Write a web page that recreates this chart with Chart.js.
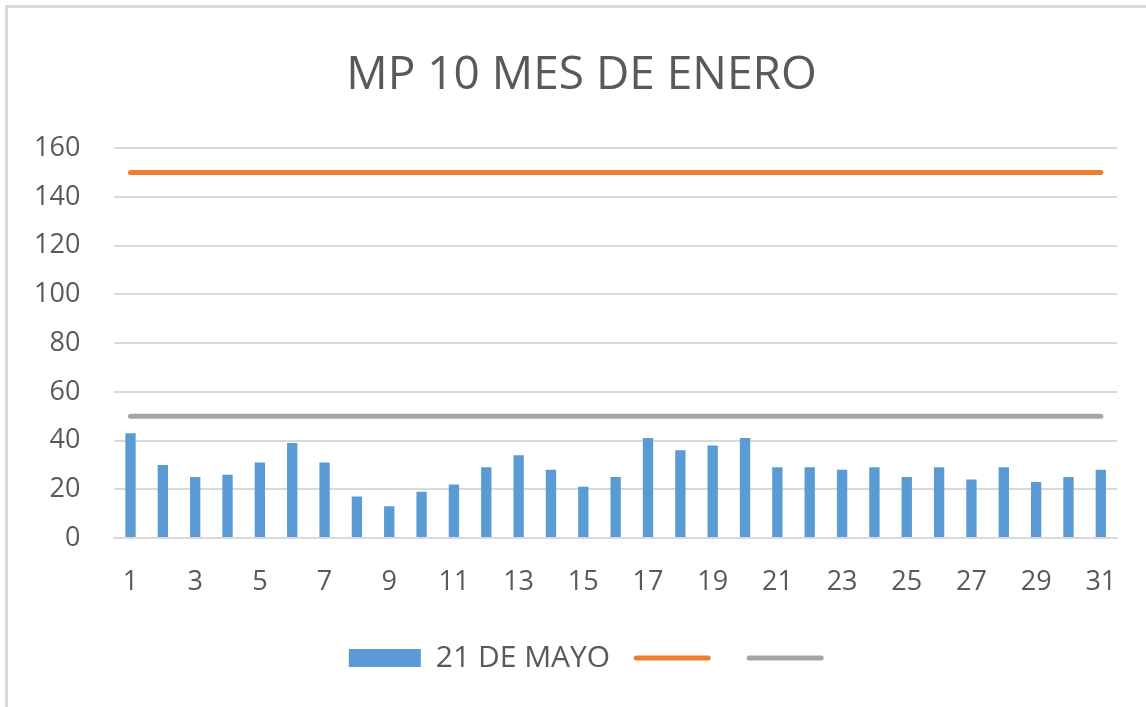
<!DOCTYPE html>
<html>
<head>
<meta charset="utf-8">
<script src="https://cdn.jsdelivr.net/npm/chart.js@4"></script>
<style>
  html, body { margin: 0; padding: 0; background: #fff; }
  #frame {
    position: absolute; left: 5px; top: 5px; width: 1141px; height: 702px;
    border-top: 3px solid #d9d9d9; border-left: 3px solid #d9d9d9;
    box-sizing: border-box;
  }
  #wrap { position: absolute; left: 0; top: 0; width: 1146px; height: 707px; }
</style>
</head>
<body>
<div id="frame"></div>
<div id="wrap"><canvas id="chart"></canvas></div>
<script>
// datos del grafico
const dias = Array.from({ length: 31 }, (_, i) => String(i + 1));
const mayo21 = [43, 30, 25, 26, 31, 39, 31, 17, 13, 19, 22, 29, 34, 28, 21, 25, 41, 36, 38, 41,
                29, 29, 28, 29, 25, 29, 24, 29, 23, 25, 28];
const limiteAlto = Array(31).fill(150);
const limiteBajo = Array(31).fill(50);
const yTicks = [0, 20, 40, 60, 80, 100, 120, 140, 160];

const FONT = "'Open Sans', 'Liberation Sans', sans-serif";
const GRIS_TEXTO = '#595959';

// centrar titulo y leyenda como en Excel (desplazados a la derecha)
const desplazarCajas = {
    id: 'desplazarCajas',
    afterLayout(chart) {
        if (chart.titleBlock) { chart.titleBlock.left += 23; chart.titleBlock.right += 23; }
        if (chart.legend) { chart.legend.left += 34; chart.legend.right += 34; }
    }
};

new Chart(document.getElementById('chart'), {
    data: {
        labels: dias,
        datasets: [
            {
                type: 'line', label: '', data: limiteAlto,
                borderColor: '#ed7d31', backgroundColor: '#ed7d31',
                borderWidth: 5, borderCapStyle: 'round', pointRadius: 0, order: 1
            },
            {
                type: 'line', label: '', data: limiteBajo,
                borderColor: '#a5a5a5', backgroundColor: '#a5a5a5',
                borderWidth: 5, borderCapStyle: 'round', pointRadius: 0, order: 1
            },
            {
                type: 'bar', label: '21 DE MAYO', data: mayo21,
                backgroundColor: '#5b9bd5', borderWidth: 0,
                categoryPercentage: 1, barPercentage: 0.32, order: 2
            }
        ]
    },
    options: {
        responsive: true,
        maintainAspectRatio: false,
        animation: false,
        layout: { padding: { left: 0, right: 29, top: 20, bottom: 24 } },
        plugins: {
            title: {
                display: true, text: 'MP 10 MES DE ENERO', color: GRIS_TEXTO,
                font: { family: FONT, size: 46, weight: 'normal' },
                padding: { top: 28, bottom: 45 }
            },
            legend: {
                position: 'bottom',
                labels: {
                    color: GRIS_TEXTO,
                    font: { family: FONT, size: 30 },
                    usePointStyle: true,
                    pointStyleWidth: 72,
                    boxHeight: 18,
                    padding: 26,
                    generateLabels(chart) {
                        // barra primero, luego las dos lineas
                        const items = Chart.defaults.plugins.legend.labels.generateLabels(chart);
                        items.forEach(it => {
                            const ds = chart.data.datasets[it.datasetIndex];
                            it.pointStyle = ds.type === 'bar' ? 'rect' : 'line';
                            if (ds.type === 'line') { it.lineWidth = 5; it.lineCap = 'round'; }
                        });
                        return [items[2], items[0], items[1]];
                    }
                }
            },
            tooltip: { enabled: false }
        },
        scales: {
            x: {
                grid: { display: false, drawTicks: false },
                border: { display: true, color: '#d9d9d9', width: 2 },
                ticks: {
                    color: GRIS_TEXTO, font: { family: FONT, size: 27 },
                    padding: 28, maxRotation: 0, autoSkip: false,
                    callback: (v, i) => (i % 2 === 0 ? dias[i] : '')
                },
                afterFit: axis => { axis.height = 79; }
            },
            y: {
                min: 0, max: 160,
                afterBuildTicks: axis => { axis.ticks = yTicks.map(v => ({ value: v })); },
                grid: { color: '#d9d9d9', lineWidth: 2, drawTicks: false },
                border: { display: false },
                ticks: {
                    color: GRIS_TEXTO, font: { family: FONT, size: 27 }, padding: 34
                }
            }
        }
    },
    plugins: [desplazarCajas]
});
</script>
</body>
</html>
